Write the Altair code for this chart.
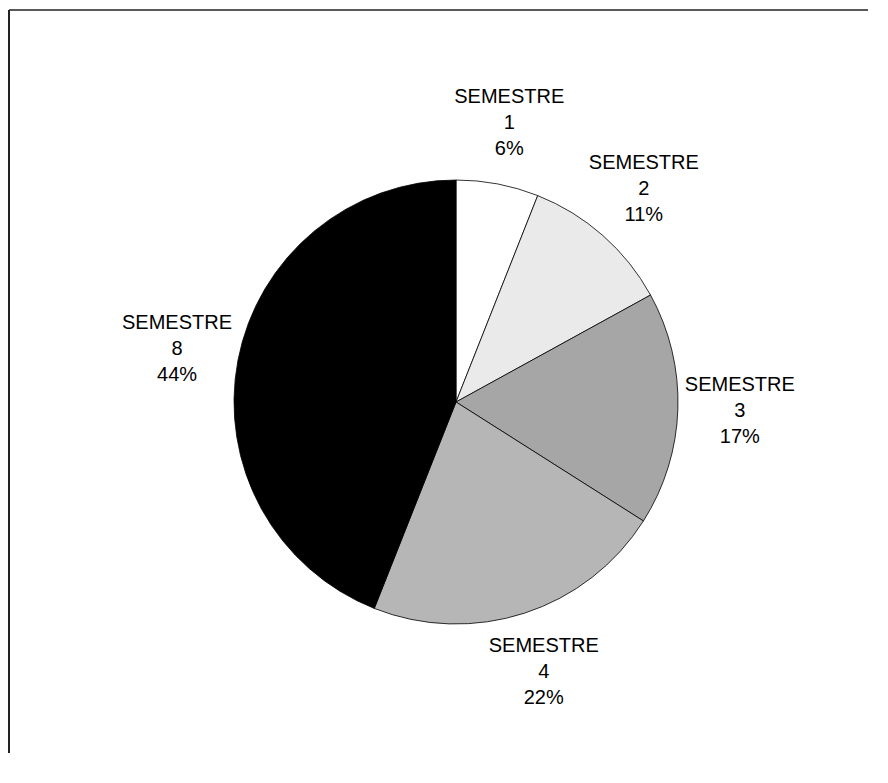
import altair as alt
import pandas as pd

semesters = ["1", "2", "3", "4", "8"]
percents = [6, 11, 17, 22, 44]
colors = ["#ffffff", "#eaeaea", "#a6a6a6", "#b6b6b6", "#000000"]

df = pd.DataFrame({
    "sem": ["SEMESTRE " + s for s in semesters],
    "pct": percents,
    "ord": list(range(len(semesters))),
    "label": ["SEMESTRE\n" + s + "\n" + str(p) + "%" for s, p in zip(semesters, percents)],
})

W, H = 860, 745
CX, CY = 448, 394

base = alt.Chart(df).encode(
    theta=alt.Theta("pct:Q", stack=True),
    order=alt.Order("ord:Q"),
)

pie = base.mark_arc(outerRadius=222, stroke="#000000", strokeWidth=0.8).encode(
    color=alt.Color("sem:N", scale=alt.Scale(domain=df["sem"].tolist(), range=colors), legend=None),
    x=alt.value(CX), y=alt.value(CY),
)

labels = base.mark_text(
    radius=284, fontSize=20, font="Liberation Sans", lineHeight=26, dy=-26,
    lineBreak="\n", align="center", baseline="middle", color="#000000",
).encode(
    text="label:N",
    x=alt.value(CX), y=alt.value(CY),
)

frame_df = pd.DataFrame({"a": [0]})
left = alt.Chart(frame_df).mark_rule(color="#222222", strokeWidth=2).encode(
    x=alt.value(1), y=alt.value(2), y2=alt.value(H))
top = alt.Chart(frame_df).mark_rule(color="#222222", strokeWidth=1.6).encode(
    x=alt.value(1), x2=alt.value(W), y=alt.value(2))

chart = alt.layer(pie, labels, left, top).properties(
    width=W, height=H, padding=0,
    autosize=alt.AutoSizeParams(type="none"),
).configure_view(strokeWidth=0)

chart.save("out.html", embed_options={"renderer": "svg", "actions": False})
